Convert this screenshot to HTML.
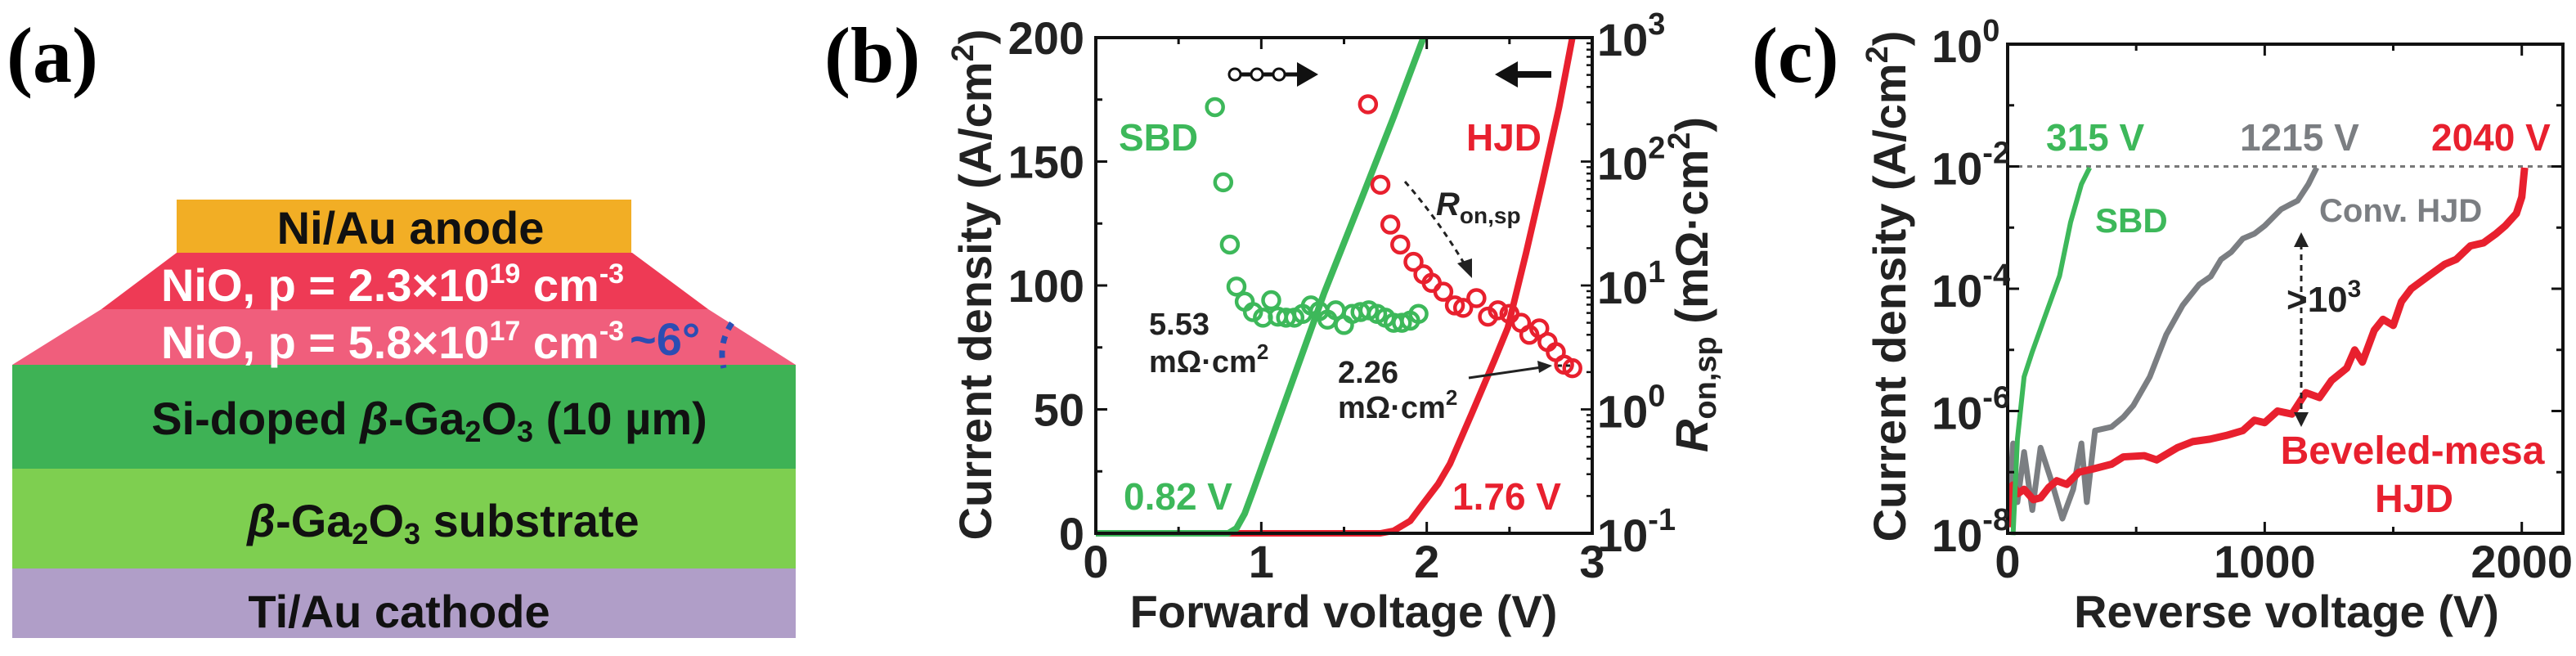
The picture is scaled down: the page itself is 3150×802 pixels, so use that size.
<!DOCTYPE html>
<html><head><meta charset="utf-8"><style>
html,body{margin:0;padding:0;background:#fff}
svg{display:block}
text{font-family:"Liberation Sans",Arial,sans-serif;font-weight:bold}
.ser{font-family:"Liberation Serif",serif}
</style></head><body>
<svg id="fig" width="3150" height="802" viewBox="0 0 3150 802" xmlns="http://www.w3.org/2000/svg">
<g>
<text class="ser" x="8" y="100" font-size="96">(a)</text>
<rect x="15" y="695" width="958" height="85" fill="#b09ec8"/>
<rect x="15" y="573" width="958" height="122" fill="#7ecf50"/>
<rect x="15" y="446" width="958" height="127" fill="#3eb255"/>
<polygon points="124,378 866,378 973,446 15,446" fill="#f05e7c"/>
<polygon points="216,309 773,309 866,378 124,378" fill="#ee3a55"/>
<rect x="216" y="244" width="556" height="65" fill="#f2ae25"/>
<text x="502" y="298" font-size="56" text-anchor="middle" fill="#111">Ni/Au anode</text>
<text x="480" y="368" font-size="56" text-anchor="middle" fill="#fff">NiO, p = 2.3×10<tspan dy="-22" font-size="34">19</tspan><tspan dy="22"> cm</tspan><tspan dy="-22" font-size="34">-3</tspan></text>
<text x="480" y="438" font-size="56" text-anchor="middle" fill="#fff">NiO, p = 5.8×10<tspan dy="-22" font-size="34">17</tspan><tspan dy="22"> cm</tspan><tspan dy="-22" font-size="34">-3</tspan></text>
<text x="770" y="434" font-size="56" fill="#2c4db3">~6°</text>
<path d="M895,395 Q878,420 885,450" stroke="#2c4db3" stroke-width="7" fill="none" stroke-dasharray="9,9"/>
<text x="525" y="531" font-size="56" text-anchor="middle" fill="#111">Si-doped <tspan font-style="italic">β</tspan>-Ga<tspan font-size="36" dy="9">2</tspan><tspan dy="-9">O</tspan><tspan font-size="36" dy="9">3</tspan><tspan dy="-9"> (10 µm)</tspan></text>
<text x="542" y="656" font-size="56" text-anchor="middle" fill="#111"><tspan font-style="italic">β</tspan>-Ga<tspan font-size="36" dy="9">2</tspan><tspan dy="-9">O</tspan><tspan font-size="36" dy="9">3</tspan><tspan dy="-9"> substrate</tspan></text>
<text x="488" y="767" font-size="56" text-anchor="middle" fill="#111">Ti/Au cathode</text>
</g>
<text class="ser" x="1008" y="100" font-size="96">(b)</text>
<text class="ser" x="2142" y="100" font-size="96">(c)</text>
<g id="pb"></g>
<g id="pc"></g>
</svg>
<script>
// ---- Panel b data ----
const sbdJV_V=[0,0.80,0.85,0.90,0.95,1.10,1.38,1.60,1.80,1.98];
const sbdJV_J=[0,0,2,8,17,45,97,134,168,200];
const hjdJV_V=[0,1.72,1.80,1.90,1.99,2.07,2.14,2.27,2.41,2.49,2.60,2.70,2.80,2.88];
const hjdJV_J=[0,0,1,5,13,20,28,48,70,83,113,142,172,200];
const sbdR_V=[0.72,0.77,0.81,0.85,0.90,0.95,1.01,1.06,1.10,1.15,1.20,1.25,1.30,1.35,1.40,1.45,1.50,1.55,1.60,1.65,1.70,1.75,1.80,1.85,1.90,1.95];
const sbdR_R=[275,68,21.4,9.8,7.4,6.1,5.5,7.6,5.6,5.5,5.5,5.9,6.9,6.2,5.3,6.3,4.8,5.9,6.1,6.3,5.9,5.5,5.0,5.0,5.2,5.9];
const hjdR_V=[1.645,1.72,1.78,1.84,1.92,1.98,2.03,2.10,2.17,2.22,2.30,2.37,2.43,2.50,2.57,2.62,2.68,2.73,2.78,2.83,2.88];
const hjdR_R=[290,65,31,21.4,15.5,12.3,10.5,8.9,6.9,6.6,7.9,5.6,6.3,5.9,5.0,4.0,4.5,3.5,2.9,2.3,2.15];
const bXTicks=[0,1,2,3];
const bYTicks=[0,50,100,150,200];
const bRTicks=[-1,0,1,2,3];
// ---- Panel c data ----
const sbdRev_V=[21,38,64,96,149,202,245,287,319];
const sbdRev_logJ=[-8.03,-6.46,-5.44,-5.03,-4.41,-3.79,-2.91,-2.29,-2.02];
const convRev_V=[5,21,38,64,96,128,170,213,255,287,308,340,404,450,489,553,617,681,745,790,830,870,915,960,1000,1040,1064,1100,1128,1170,1202];
const convRev_logJ=[-7.6,-6.53,-7.49,-6.67,-7.62,-6.6,-7.14,-7.76,-7.28,-6.53,-7.49,-6.32,-6.26,-6.1,-5.91,-5.44,-4.75,-4.27,-3.93,-3.8,-3.52,-3.4,-3.18,-3.1,-2.97,-2.8,-2.70,-2.62,-2.56,-2.29,-2.02];
const hjdRev_V=[5,11,21,40,64,100,128,160,191,230,277,330,404,450,532,580,660,720,787,850,915,960,1000,1050,1106,1160,1213,1260,1319,1350,1380,1426,1460,1500,1532,1570,1638,1700,1745,1800,1851,1900,1936,1979,2000,2011];
const hjdRev_logJ=[-7.9,-7.25,-7.21,-7.35,-7.28,-7.45,-7.42,-7.25,-7.14,-7.2,-7.0,-6.95,-6.87,-6.75,-6.73,-6.8,-6.6,-6.5,-6.46,-6.4,-6.32,-6.15,-6.19,-6.0,-6.05,-5.7,-5.78,-5.5,-5.30,-5.0,-5.2,-4.68,-4.5,-4.6,-4.21,-4.0,-3.79,-3.6,-3.52,-3.3,-3.25,-3.1,-2.97,-2.77,-2.50,-2.02];
const cXTicks=[0,1000,2000];
const cYTicks=[-8,-6,-4,-2,0];

const NS="http://www.w3.org/2000/svg";
function mk(parent,tag,attrs,txt){const e=document.createElementNS(NS,tag);for(const k in attrs)e.setAttribute(k,attrs[k]);if(txt!==undefined)e.textContent=txt;parent.appendChild(e);return e;}
const G="#3db85a",R="#e8202e",GR="#7b7e82";

(function(){
const g=document.getElementById('pb');
const L=1340,Rt=1947,T=46,B=652;
const x=v=>L+(v/3)*(Rt-L), y=j=>B-(j/200)*(B-T), yr=r=>B-((Math.log10(r)+1)/4)*(B-T);
function line(V,J,c,name){const p=mk(g,'polyline',{points:V.map((v,i)=>x(v)+','+y(J[i])).join(' '),fill:'none',stroke:c,'stroke-width':8,'stroke-linejoin':'round'});}
line(hjdJV_V,hjdJV_J,R,'hjd-jv-curve');
line(sbdJV_V,sbdJV_J,G,'sbd-jv-curve');
sbdR_V.forEach((v,i)=>{const c=mk(g,'circle',{cx:x(v),cy:yr(sbdR_R[i]),r:10,fill:'none',stroke:G,'stroke-width':4.5});});
hjdR_V.forEach((v,i)=>{const c=mk(g,'circle',{cx:x(v),cy:yr(hjdR_R[i]),r:10,fill:'none',stroke:R,'stroke-width':4.5});});
const fr=mk(g,'rect',{x:L,y:T,width:Rt-L,height:B-T,fill:'none',stroke:'#111','stroke-width':4});

for(let v=0;v<=3;v+=0.5){const l=v%1===0?14:8;mk(g,'line',{x1:x(v),y1:B,x2:x(v),y2:B-l,stroke:'#111','stroke-width':3});mk(g,'line',{x1:x(v),y1:T,x2:x(v),y2:T+l,stroke:'#111','stroke-width':3});}
for(let j=0;j<=200;j+=25){const l=j%50===0?14:8;mk(g,'line',{x1:L,y1:y(j),x2:L+l,y2:y(j),stroke:'#111','stroke-width':3});}
for(let d=-1;d<3;d++){for(let m=1;m<=10;m++){const l=m===1||m===10?14:7;mk(g,'line',{x1:Rt,y1:yr(m*Math.pow(10,d)),x2:Rt-l,y2:yr(m*Math.pow(10,d)),stroke:'#111','stroke-width':2.5});}}
bXTicks.forEach(v=>{const t=mk(g,'text',{x:x(v),y:706,'font-size':56,'text-anchor':'middle',fill:'#222'},String(v));});
bYTicks.forEach(j=>{const t=mk(g,'text',{x:1326,y:y(j)+20,'font-size':56,'text-anchor':'end',fill:'#222'},String(j));});
bRTicks.forEach(d=>{const t=mk(g,'text',{x:1953,y:yr(Math.pow(10,d))+22,'font-size':56,fill:'#222'},'10');mk(t,'tspan',{dy:-26,'font-size':38},String(d));});
})();

(function(){
const g=document.getElementById('pc');
const L=2455,Rt=3134,T=54,B=652,XM=2160;
const x=v=>L+(v/XM)*(Rt-L), y=lj=>T+(-lj/8)*(B-T);
const dl=mk(g,'line',{x1:L,y1:y(-2),x2:Rt,y2:y(-2),stroke:'#777','stroke-width':3,'stroke-dasharray':'6,6'});

function line(V,J,c,w,name){const p=mk(g,'polyline',{points:V.map((v,i)=>x(v)+','+y(J[i])).join(' '),fill:'none',stroke:c,'stroke-width':w,'stroke-linejoin':'round'});}
line(convRev_V,convRev_logJ,GR,7,'conv-hjd-curve');
line(hjdRev_V,hjdRev_logJ,R,9,'beveled-hjd-curve');
line(sbdRev_V,sbdRev_logJ,G,6,'sbd-reverse-curve');
const fr=mk(g,'rect',{x:L,y:T,width:Rt-L,height:B-T,fill:'none',stroke:'#111','stroke-width':4});

for(let v=0;v<=XM;v+=500){const l=v%1000===0?14:8;mk(g,'line',{x1:x(v),y1:B,x2:x(v),y2:B-l,stroke:'#111','stroke-width':3});mk(g,'line',{x1:x(v),y1:T,x2:x(v),y2:T+l,stroke:'#111','stroke-width':3});}
for(let d=-8;d<=0;d++){const l=d%2===0?14:8;mk(g,'line',{x1:L,y1:y(d),x2:L+l,y2:y(d),stroke:'#111','stroke-width':3});mk(g,'line',{x1:Rt,y1:y(d),x2:Rt-l,y2:y(d),stroke:'#111','stroke-width':3});}
cXTicks.forEach(v=>{const t=mk(g,'text',{x:x(v),y:706,'font-size':56,'text-anchor':'middle',fill:'#222'},String(v));});
cYTicks.forEach(d=>{const t=mk(g,'text',{x:2362,y:y(d)+22,'font-size':56,fill:'#222'},'10');mk(t,'tspan',{dy:-26,'font-size':38},String(d));});
})();
</script>
<script>
(function(){
const s=document.getElementById('fig');
s.insertAdjacentHTML('beforeend',`
<g>
<text transform="translate(1212,348) rotate(-90)" font-size="56" text-anchor="middle" fill="#222">Current density (A/cm<tspan dy="-22" font-size="38">2</tspan><tspan dy="22">)</tspan></text>
<text transform="translate(2088,348) rotate(-90)" font-size="56" text-anchor="middle" fill="#222"><tspan font-style="italic">R</tspan><tspan font-size="38" dy="10">on,sp</tspan><tspan dy="-10"> (mΩ·cm</tspan><tspan dy="-22" font-size="38">2</tspan><tspan dy="22">)</tspan></text>
<text x="1643" y="767" font-size="56" text-anchor="middle" fill="#222">Forward voltage (V)</text>
<text x="1368" y="184" font-size="46" fill="#3db85a">SBD</text>
<text x="1793" y="184" font-size="46" fill="#e8202e">HJD</text>
<text x="1374" y="623" font-size="46" fill="#3db85a">0.82 V</text>
<text x="1776" y="623" font-size="46" fill="#e8202e">1.76 V</text>
<text x="1405" y="409" font-size="38" fill="#222">5.53</text>
<text x="1405" y="455" font-size="38" fill="#222">mΩ·cm<tspan dy="-16" font-size="26">2</tspan></text>
<text x="1636" y="468" font-size="38" fill="#222">2.26</text>
<text x="1636" y="511" font-size="38" fill="#222">mΩ·cm<tspan dy="-16" font-size="26">2</tspan></text>
<text x="1756" y="263" font-size="40" font-style="italic" fill="#222">R<tspan font-size="28" dy="10" font-style="normal">on,sp</tspan></text>
<path d="M1718,222 Q1760,270 1795,330" stroke="#222" stroke-width="3" fill="none" stroke-dasharray="7,6"/>
<polygon points="1800,340 1782,322 1800,316" fill="#222"/>
<line x1="1796" y1="462" x2="1885" y2="449" stroke="#222" stroke-width="3"/>
<polygon points="1898,447 1880,441 1882,456" fill="#222"/>
<line x1="1905" y1="447" x2="1925" y2="447" stroke="#222" stroke-width="3" stroke-dasharray="5,5"/>
<line x1="1510" y1="91" x2="1590" y2="91" stroke="#111" stroke-width="5"/>
<circle cx="1510" cy="91" r="7" fill="#fff" stroke="#111" stroke-width="3"/>
<circle cx="1537" cy="91" r="7" fill="#fff" stroke="#111" stroke-width="3"/>
<circle cx="1564" cy="91" r="7" fill="#fff" stroke="#111" stroke-width="3"/>
<polygon points="1612,91 1586,76 1586,106" fill="#111"/>
<line x1="1850" y1="91" x2="1897" y2="91" stroke="#111" stroke-width="8"/>
<polygon points="1828,91 1856,75 1856,107" fill="#111"/>
</g>
<g>
<text transform="translate(2330,350) rotate(-90)" font-size="56" text-anchor="middle" fill="#222">Current density (A/cm<tspan dy="-22" font-size="38">2</tspan><tspan dy="22">)</tspan></text>
<text x="2796" y="767" font-size="56" text-anchor="middle" fill="#222">Reverse voltage (V)</text>
<text x="2502" y="184" font-size="46" fill="#3db85a">315 V</text>
<text x="2739" y="184" font-size="46" fill="#7b7e82">1215 V</text>
<text x="2973" y="184" font-size="46" fill="#e8202e">2040 V</text>
<text x="2562" y="284" font-size="42" fill="#3db85a">SBD</text>
<text x="2836" y="271" font-size="40" fill="#7b7e82">Conv. HJD</text>
<text x="2796" y="381" font-size="44" fill="#222">&gt;10<tspan dy="-18" font-size="30">3</tspan></text>
<text x="2950" y="567" font-size="48" text-anchor="middle" fill="#e8202e">Beveled-mesa</text>
<text x="2952" y="626" font-size="48" text-anchor="middle" fill="#e8202e">HJD</text>
<line x1="2814" y1="298" x2="2814" y2="508" stroke="#222" stroke-width="3" stroke-dasharray="7,6"/>
<polygon points="2814,284 2805,302 2823,302" fill="#222"/>
<polygon points="2814,522 2805,504 2823,504" fill="#222"/>
</g>`);
})();
</script>
</body></html>
